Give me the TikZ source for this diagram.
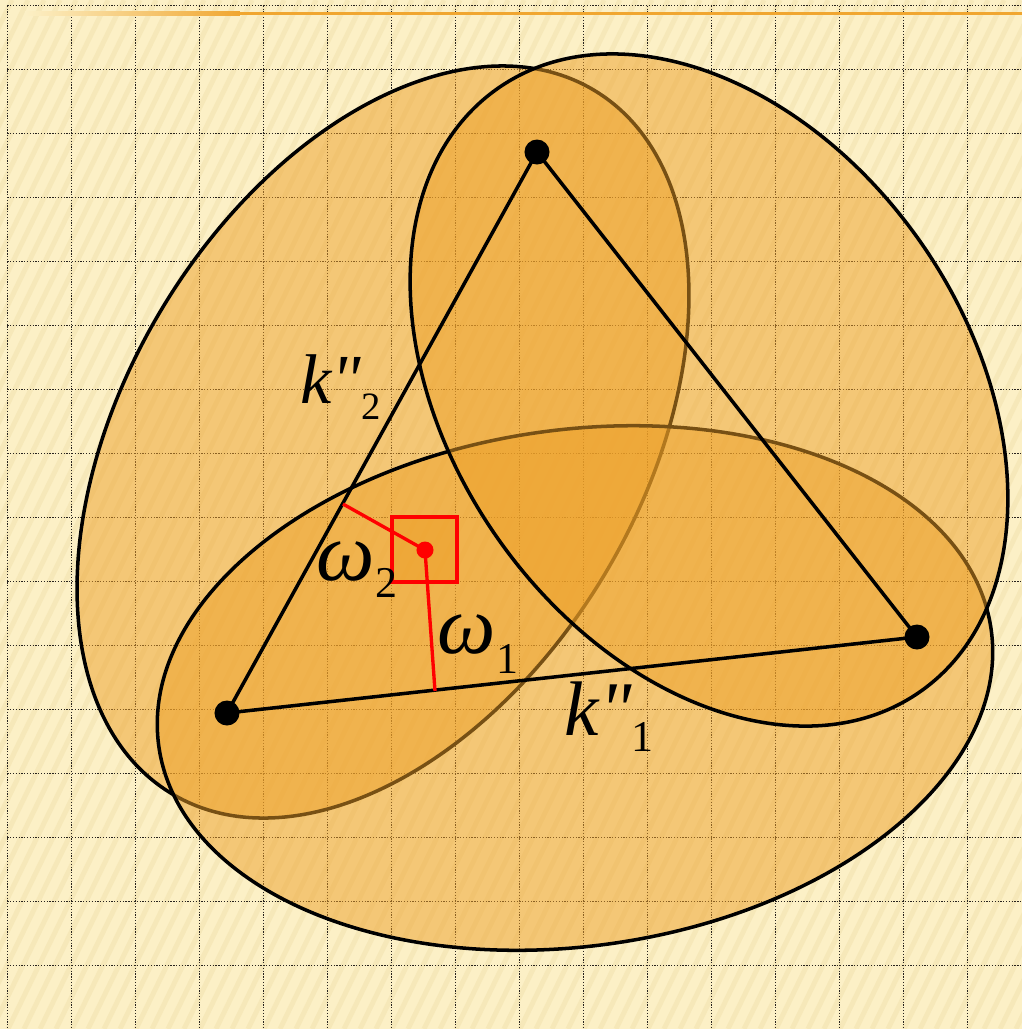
\documentclass[tikz,border=0pt]{standalone}
\usepackage{fontspec}
\setmainfont{Liberation Serif}
\newfontfamily\lblfont{Liberation Serif}[Ligatures=TeXOff]
\definecolor{bgcol}{RGB}{252,240,198}
\definecolor{stripecol}{RGB}{228,205,140}
\definecolor{ellfill}{RGB}{238,160,40}
\definecolor{topline}{RGB}{240,166,48}
\definecolor{gridcol}{RGB}{40,35,30}
\begin{document}
\begin{tikzpicture}[x=0.01cm,y=-0.01cm,
  ell/.style={fill=ellfill, fill opacity=0.5, draw=black, draw opacity=1, line width=1pt},
  edge/.style={draw=black, line width=1pt},
  vdot/.style={circle, fill=black, inner sep=0pt, minimum size=0.25cm},
  rdot/.style={circle, fill=red, inner sep=0pt, minimum size=0.17cm},
  redline/.style={draw=red, line width=0.95pt},
  gridline/.style={draw=gridcol, line width=0.42pt, dash pattern=on 0.35pt off 0.45pt},
  lbl/.style={inner sep=0pt, anchor=base west, font=\lblfont}
]
\useasboundingbox (0,0) rectangle (1022,1029);
\begin{scope}
\clip (0,0) rectangle (1022,1029);
% background
\fill[bgcol] (0,0) rectangle (1022,1029);
\foreach \xx in {-520,-504,...,1030}
  \draw[stripecol, opacity=0.22, line width=1.4pt] (\xx,1029) -- ++(500,-1029);
% grid
\foreach \i in {0,...,15}
  \draw[gridline] ({7.3+64*\i},5.7) -- ({7.3+64*\i},1029);
\foreach \j in {0,...,15}
  \draw[gridline] (7.3,{5.7+64*\j}) -- (1022,{5.7+64*\j});
% top line
\shade[left color=bgcol, right color=topline] (25,11.6) rectangle (240,15);
\fill[topline] (240,11.6) rectangle (1022,15);
% ellipses
\path[ell, rotate around={59:(383,442)}] (383,442) ellipse [x radius=4.10cm, y radius=2.58cm];
\path[ell, rotate around={8:(575,688)}] (575,688) ellipse [x radius=4.20cm, y radius=2.58cm];
\path[ell, rotate around={-55:(709,390)}] (709,390) ellipse [x radius=3.68cm, y radius=2.58cm];
\end{scope}
% triangle
\coordinate (T) at (537,152);
\coordinate (L) at (227,713);
\coordinate (R) at (917,637);
\draw[edge] (T) -- (L);
\draw[edge] (L) -- (R);
\draw[edge] (R) -- (T);
\node[vdot] (Tdot) at (T) {};
\node[vdot] (Ldot) at (L) {};
\node[vdot] (Rdot) at (R) {};
% red construction
\coordinate (P) at (425,550);
\coordinate (F2) at (343,504);
\coordinate (F1) at (435,691);
\node[draw=red, line width=0.95pt, fill=ellfill, fill opacity=0.55, draw opacity=1,
      minimum size=0.65cm, inner sep=0pt] (sq) at (424.5,549.5) {};
\draw[redline] (P) -- (F2);
\draw[redline] (P) -- (F1);
\node[rdot] (Pdot) at (P) {};
% labels
\node[lbl] (k2) at (300,403) {\fontsize{20}{20}\selectfont\itshape k"\raisebox{-4.8pt}{\fontsize{11}{11}\selectfont\upshape 2}};
\node[lbl] (k1) at (564,735) {\fontsize{22}{22}\selectfont\itshape k"\raisebox{-4.8pt}{\fontsize{12.5}{12.5}\selectfont\upshape 1}};
\node[lbl] (w2) at (316,580) {\fontsize{23.5}{23.5}\selectfont\itshape ω\raisebox{-5.1pt}{\fontsize{12.5}{12.5}\selectfont\upshape 2}};
\node[lbl] (w1) at (437,653) {\fontsize{23.5}{23.5}\selectfont\itshape ω\raisebox{-5.7pt}{\fontsize{12.5}{12.5}\selectfont\upshape 1}};
\end{tikzpicture}
\end{document}
